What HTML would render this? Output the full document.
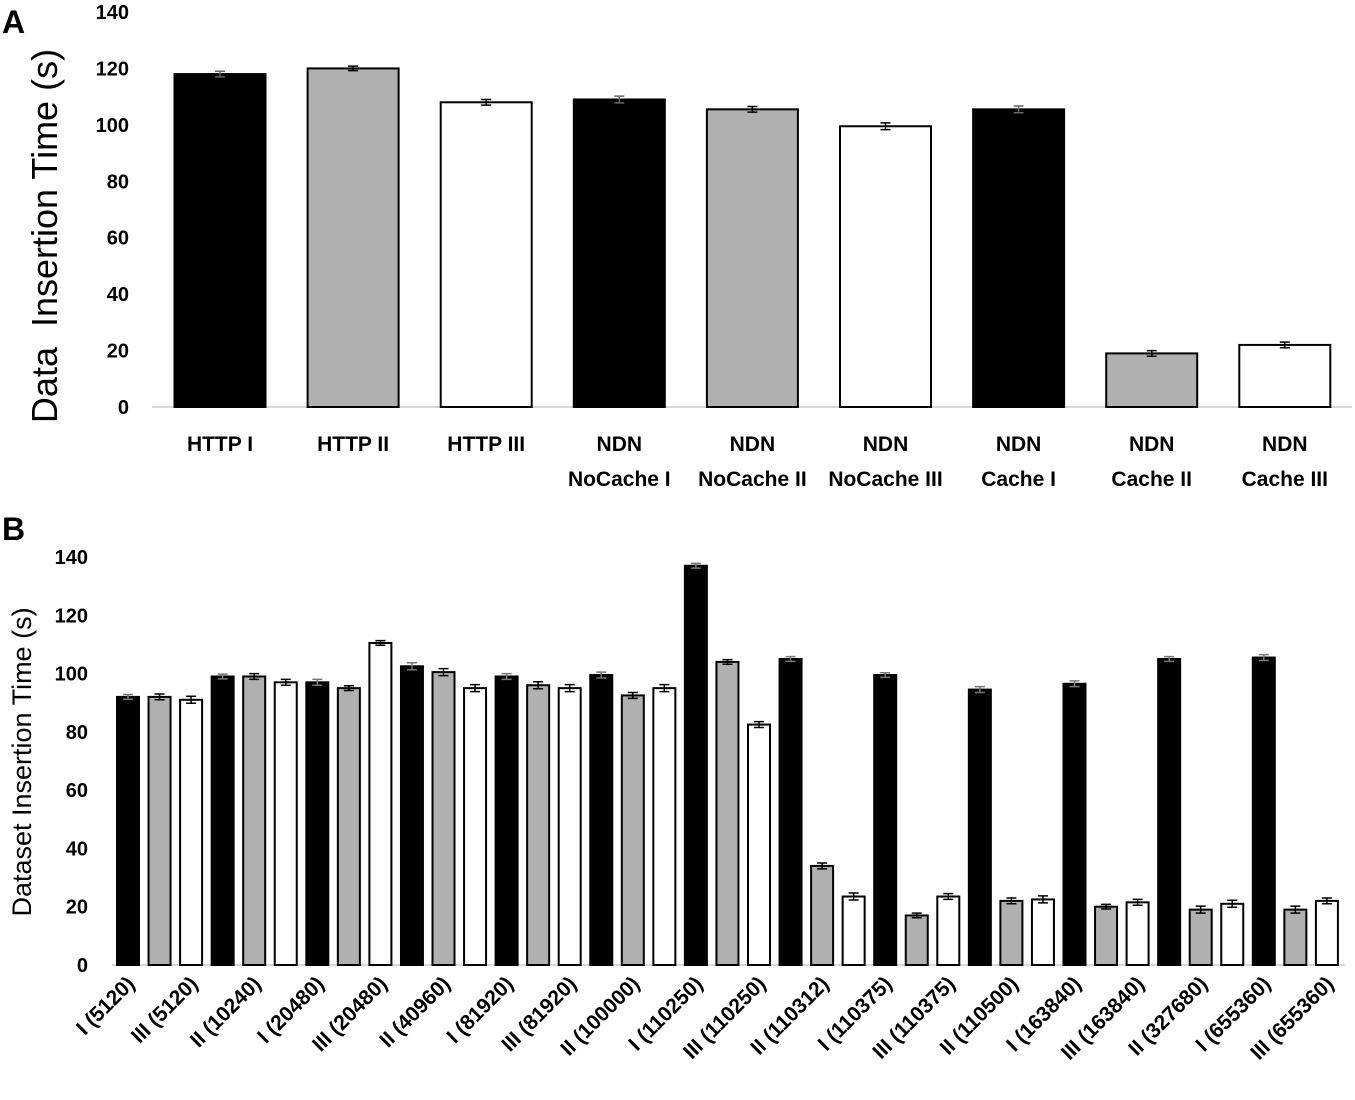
<!DOCTYPE html>
<html><head><meta charset="utf-8"><style>
body{margin:0;background:#fff;width:1355px;height:1095px;overflow:hidden}
svg{font-family:"Liberation Sans",Arial,sans-serif}
</style></head><body>
<svg id="s" width="1355" height="1095">
<text x="2" y="33" font-size="32" font-weight="bold">A</text>
<text x="2" y="540" font-size="32" font-weight="bold">B</text>
<g id="ga"></g>
<g id="gb"></g>
</svg>
<script>
const catsA=[["HTTP I"],["HTTP II"],["HTTP III"],["NDN","NoCache I"],["NDN","NoCache II"],["NDN","NoCache III"],["NDN","Cache I"],["NDN","Cache II"],["NDN","Cache III"]];
const valsA=[118,120,108,109,105.5,99.5,105.5,19,22];
const errA=[1,0.8,1,1.2,1,1.2,1.2,1,1];
const ticksA=[0,20,40,60,80,100,120,140];
const groupsB=["5120","10240","20480","40960","81920","100000","110250","110312","110375","110500","163840","327680","655360"];
const typesB=["I","II","III"];
const valsB=[92,92,91,99,99,97,97,95,110.5,102.5,100.5,95,99,96,95,99.5,92.5,95,137,104,82.5,105,34,23.5,99.5,17,23.5,94.5,22,22.5,96.5,20,21.5,105,19,21,105.5,19,22];
const errB=[0.8,1,1.2,0.8,1,1,1,0.8,0.8,1.2,1.2,1.2,1,1.2,1.2,1,1,1.2,0.8,0.8,1,0.8,1,1.2,0.8,0.8,1,1,1,1.2,1,0.8,1,0.8,1.2,1.2,1,1.2,1];
const ticksB=[0,20,40,60,80,100,120,140];
const fills=["#000","#b0b0b0","#fff"];
const NS="http://www.w3.org/2000/svg";
function mk(p,t,a,txt){const e=document.createElementNS(NS,t);for(const k in a)e.setAttribute(k,a[k]);if(txt!=null)e.textContent=txt;p.appendChild(e);return e;}
// Chart A
const ga=document.getElementById('ga');
const yA=v=>407-v*395/140, xA=i=>220+i*133.1;
mk(ga,'line',{x1:152,x2:1352,y1:407,y2:407,stroke:'#ccc','stroke-width':1.5,});
ticksA.forEach(t=>{const e=mk(ga,'text',{x:129,y:yA(t)+7,'text-anchor':'end','font-size':20,'font-weight':'bold'},t);

});
const ta=mk(ga,'text',{transform:'translate(57,236) rotate(-90)','text-anchor':'middle','font-size':36},'Data  Insertion Time (s)');
ta.style.whiteSpace='pre';
valsA.forEach((v,i)=>{const r=mk(ga,'rect',{x:xA(i)-45.5,y:yA(v),width:91,height:yA(0)-yA(v),fill:fills[i%3],stroke:'#000','stroke-width':2});


const g=mk(ga,'path',{d:`M${xA(i)} ${yA(v+errA[i])}V${yA(v-errA[i])}M${xA(i)-5} ${yA(v+errA[i])}h10M${xA(i)-5} ${yA(v-errA[i])}h10`,stroke:i%3==0?'#666':'#000','stroke-width':1.5});


catsA[i].forEach((l,j)=>{const t=mk(ga,'text',{x:xA(i),y:451+j*35,'text-anchor':'middle','font-size':21,'font-weight':'bold'},l);

});});
// Chart B
const gb=document.getElementById('gb');
const yB=v=>965-v*408/140, xB=i=>128+i*31.55;
mk(gb,'line',{x1:112,x2:1345,y1:965,y2:965,stroke:'#ccc','stroke-width':1.5,});
ticksB.forEach(t=>{const e=mk(gb,'text',{x:88,y:yB(t)+7,'text-anchor':'end','font-size':20,'font-weight':'bold'},t);

});
const tb=mk(gb,'text',{transform:'translate(31,762) rotate(-90)','text-anchor':'middle','font-size':27},'Dataset Insertion Time (s)');

valsB.forEach((v,i)=>{const r=mk(gb,'rect',{x:xB(i)-11,y:yB(v),width:22,height:yB(0)-yB(v),fill:fills[i%3],stroke:'#000','stroke-width':2});


const e=errB[i];
const g=mk(gb,'path',{d:`M${xB(i)} ${yB(v+e)}V${yB(v-e)}M${xB(i)-5} ${yB(v+e)}h10M${xB(i)-5} ${yB(v-e)}h10`,stroke:i%3==0?'#777':'#000','stroke-width':1.5});


if(i%2==0){const lab=typesB[i%3]+' ('+groupsB[Math.floor(i/3)]+')';
const t=mk(gb,'text',{transform:`translate(${xB(i)+8},985) rotate(-45)`,'text-anchor':'end','font-size':21,'font-weight':'bold'},lab);

}});
</script>
</body></html>
